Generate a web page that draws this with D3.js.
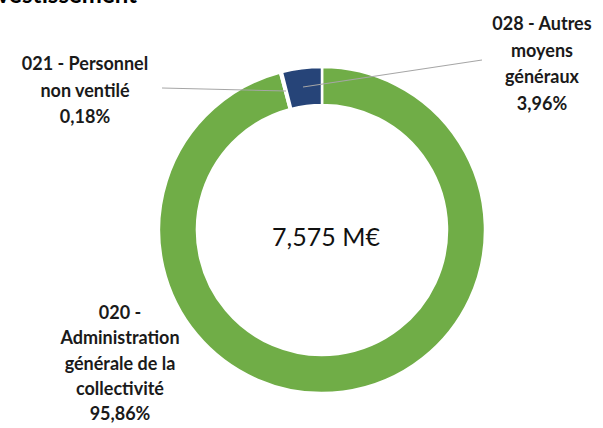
<!DOCTYPE html>
<html><head><meta charset="utf-8">
<script src="https://cdn.jsdelivr.net/npm/d3@7"></script>
<style>body{margin:0;background:#fff}svg{display:block}</style>
</head><body>
<svg id="c" width="603" height="428"></svg>
<script>
const categories = ["020 - Administration générale de la collectivité", "021 - Personnel non ventilé", "028 - Autres moyens généraux"];
const values = [95.86, 0.18, 3.96];
const colors = ["#70AD47", "#A5A5A5", "#264478"];
const labelLines = [
  ["020 -", "Administration", "générale de la", "collectivité", "95,86%"],
  ["021 - Personnel", "non ventilé", "0,18%"],
  ["028 - Autres", "moyens", "généraux", "3,96%"]
];
const totalLabel = "7,575 M€";
const titleText = "d'investissement";

const svg = d3.select("#c");
const cx = 322, cy = 230, R = 163, r = 125;
const font = "Lato, 'Open Sans', sans-serif";

svg.append("text").attr("x", 137).attr("y", 3).attr("text-anchor", "end")
  .attr("font-family", font).attr("font-weight", 700).attr("font-size", 24)
  .attr("fill", "#000").text(titleText);

const pie = d3.pie().sort(null).value(d => d)(values);
const arc = d3.arc().innerRadius(r).outerRadius(R);
const g = svg.append("g").attr("transform", `translate(${cx},${cy})`);
g.selectAll("path").data(pie).join("path")
  .attr("d", arc).attr("fill", (d, i) => colors[i])
  .attr("stroke", "#fff").attr("stroke-width", 2.5);

// leader lines
const leaders = [null, [[162, 88], [286, 91]], [[303, 87], [482, 60]]];
leaders.forEach(l => {
  if (!l) return;
  svg.append("line").attr("x1", l[0][0]).attr("y1", l[0][1]).attr("x2", l[1][0]).attr("y2", l[1][1])
    .attr("stroke", "#A6A6A6").attr("stroke-width", 1.2);
});

const labelPos = [{x: 120, y: 312, dy: 25.3}, {x: 85, y: 63, dy: 26.5}, {x: 542, y: 23, dy: 26.5}];
labelLines.forEach((lines, i) => {
  const t = svg.append("text").attr("text-anchor", "middle")
    .attr("font-family", font).attr("font-weight", 700).attr("font-size", 18).attr("fill", "#1a1a1a");
  lines.forEach((s, j) => {
    t.append("tspan").attr("x", labelPos[i].x).attr("y", labelPos[i].y + j * labelPos[i].dy)
      .attr("dominant-baseline", "central").text(s);
  });
});

svg.append("text").attr("x", 326).attr("y", 236).attr("text-anchor", "middle")
  .attr("dominant-baseline", "central")
  .attr("font-family", font).attr("font-size", 25).attr("fill", "#111").text(totalLabel);
</script>
</body></html>
